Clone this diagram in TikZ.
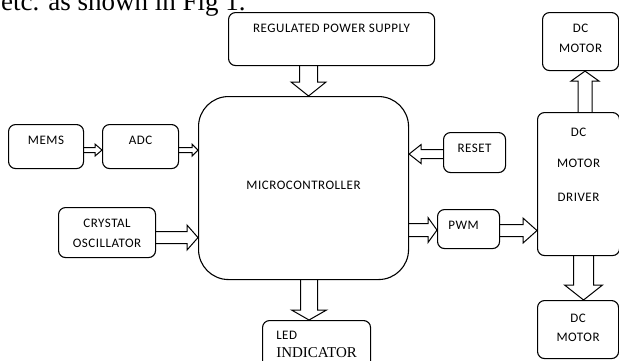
\documentclass[tikz,border=0pt]{standalone}
\usepackage{fontspec}
\setmainfont{Liberation Serif}
\newfontfamily\boxfont[LetterSpace=4]{Carlito}
\usetikzlibrary{calc}
\newcommand{\hollowarrow}[5]{%
  \coordinate (t) at #1; \coordinate (h) at #2;
  \coordinate (hb) at ($(h)!#5!(t)$);
  \draw[arrowline] ($(t)!#3!90:(h)$) -- ($(hb)!#3!-90:(t)$) -- ($(hb)!#4!-90:(t)$) -- (h)
    -- ($(hb)!#4!90:(t)$) -- ($(hb)!#3!90:(t)$) -- ($(t)!#3!-90:(h)$);
}

\begin{document}
\begin{tikzpicture}[x=1pt,y=-1pt,
    box/.style={draw, line width=1.1pt, rounded corners=7pt, anchor=north west,
      inner xsep=0pt, inner ysep=0pt, align=center, font=\boxfont\fontsize{13}{20}\selectfont},
    arrowline/.style={line width=1pt, line join=miter}]
\clip (0,0) rectangle (619,360);
\node[anchor=base west, inner sep=0pt, font=\fontsize{27}{27}\selectfont] (intro) at (1,10) {etc. as shown in Fig 1.};
\node[box, minimum width=206pt, text height=20pt, text depth=33pt] (supply) at (228,12) {REGULATED POWER SUPPLY};
\node[box, rounded corners=30pt, minimum width=210pt, text height=93pt, text depth=90pt] (mcu) at (198,96) {MICROCONTROLLER};
\node[box, minimum width=75pt, text height=20pt, text depth=24pt] (mems) at (8,124) {MEMS};
\node[box, minimum width=76pt, text height=20pt, text depth=24pt] (adc) at (102,124) {ADC};
\node[box, minimum width=62pt, text height=20pt, text depth=20pt] (reset) at (443,132) {RESET};
\node[box, minimum width=97pt, text height=40pt, text depth=10pt] (crystal) at (58,207) {CRYSTAL\\OSCILLATOR};
\node[box, minimum width=62pt, text height=20pt, text depth=19pt] (pwm) at (437,209) {PWM\kern10pt};
\node[box, minimum width=82pt, text height=89pt, text depth=54pt] (driver) at (537,112) {DC\\[11pt]MOTOR\\[14pt]DRIVER};
\node[box, minimum width=76pt, text height=40pt, text depth=18pt] (motortop) at (542,12) {DC\\MOTOR};
\node[box, minimum width=81pt, text height=41pt, text depth=17pt] (motorbot) at (537,300) {DC\\[-1pt]MOTOR};
\node[box, align=left, font=\boxfont\fontsize{13}{18}\selectfont, minimum width=108pt, text height=37pt, text depth=15pt] (led) at (262,320) {LED\\{\rmfamily\fontsize{15}{18}\selectfont INDICATOR}};

\coordinate (s1) at ($(supply.south)+(-23,0)$);
\hollowarrow{(s1)}{(s1 |- mcu.north)}{9pt}{17.5pt}{14pt}
\coordinate (s2) at ($(mems.east)+(0,3.5)$);
\hollowarrow{(s2)}{(s2 -| adc.west)}{2.5pt}{6pt}{7pt}
\coordinate (s3) at ($(adc.east)+(0,3.5)$);
\hollowarrow{(s3)}{(s3 -| mcu.west)}{2.5pt}{6pt}{6pt}
\coordinate (s4) at ($(reset.west)+(0,1.5)$);
\hollowarrow{(s4)}{(s4 -| mcu.east)}{4.5pt}{9.5pt}{12pt}
\coordinate (s5) at ($(crystal.east)+(0,5)$);
\hollowarrow{(s5)}{(s5 -| mcu.west)}{6pt}{12.5pt}{11pt}
\coordinate (s6) at ($(pwm.west)+(0,1)$);
\hollowarrow{(s6 -| mcu.east)}{(s6)}{6.5pt}{12.5pt}{9pt}
\coordinate (s7) at ($(pwm.east)+(0,1.5)$);
\hollowarrow{(s7)}{(s7 -| driver.west)}{6pt}{12.5pt}{14pt}
\coordinate (s8) at ($(driver.north)+(6.5,0)$);
\hollowarrow{(s8)}{(s8 |- motortop.south)}{7pt}{14pt}{10pt}
\coordinate (s9) at ($(driver.south)+(5,0)$);
\hollowarrow{(s9)}{(s9 |- motorbot.north)}{10pt}{19pt}{15pt}
\coordinate (s10) at ($(mcu.south)+(5.5,0)$);
\hollowarrow{(s10)}{(s10 |- led.north)}{8.5pt}{17.5pt}{10pt}
\end{tikzpicture}
\end{document}
